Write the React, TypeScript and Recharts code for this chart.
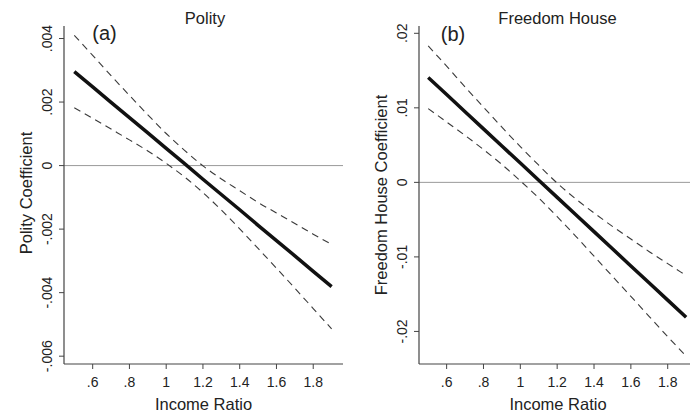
import React from 'react';
import { LineChart, Line, XAxis, YAxis, ReferenceLine } from 'recharts';

const FONT = '"Liberation Sans", Arial, sans-serif';
const TEXT = '#222';
const AXIS = '#444';

// income ratio grid shared by both panels
const incomeRatio = [0.5, 0.6, 0.7, 0.8, 0.9, 1.0, 1.1, 1.2, 1.3, 1.4, 1.5, 1.6, 1.7, 1.8, 1.9];

// panel (a): Polity
const polityCoef = [0.00296, 0.00248, 0.00199, 0.00151, 0.00103, 0.00054, 0.00006, -0.00043, -0.00091, -0.00139, -0.00188, -0.00236, -0.00284, -0.00333, -0.00381];
const polityUpper = [0.0041, 0.00347, 0.00283, 0.00221, 0.0016, 0.00101, 0.00048, -0.00001, -0.00042, -0.00079, -0.00116, -0.00149, -0.00182, -0.00216, -0.00248];
const polityLower = [0.00182, 0.00149, 0.00115, 0.00081, 0.00046, 0.00007, -0.00036, -0.00085, -0.0014, -0.00199, -0.00261, -0.00323, -0.00386, -0.0045, -0.00514];

// panel (b): Freedom House
const fhCoef = [0.01408, 0.01178, 0.00948, 0.00718, 0.00488, 0.00259, 0.00029, -0.00201, -0.00431, -0.00661, -0.00891, -0.01121, -0.01351, -0.0158, -0.0181];
const fhUpper = [0.0183, 0.0156, 0.0128, 0.0101, 0.0074, 0.0048, 0.0023, -0.0001, -0.0022, -0.0041, -0.0059, -0.0076, -0.0093, -0.0109, -0.0125];
const fhLower = [0.0099, 0.0081, 0.0063, 0.0044, 0.0024, 0.0002, -0.0021, -0.0046, -0.0072, -0.0099, -0.0126, -0.0153, -0.018, -0.0207, -0.0233];

const xTicks = [0.6, 0.8, 1, 1.2, 1.4, 1.6, 1.8];
const polityTicks = [-0.006, -0.004, -0.002, 0, 0.002, 0.004];
const fhTicks = [-0.02, -0.01, 0, 0.01, 0.02];

const polityData = incomeRatio.map((x, i) => ({ x, coef: polityCoef[i], upper: polityUpper[i], lower: polityLower[i] }));
const fhData = incomeRatio.map((x, i) => ({ x, coef: fhCoef[i], upper: fhUpper[i], lower: fhLower[i] }));

// stata style: no leading zero
function stataNum(v: number, digits: number) {
  if (Math.abs(v) < 1e-12) return '0';
  return v.toFixed(digits).replace(/^(-?)0\./, '$1.');
}

function xFmt(v: number) {
  return String(Math.round(v * 10) / 10).replace(/^0\./, '.');
}

const makeYTick = (digits: number) => (props: any) => {
  const { x, y, payload } = props;
  return (
    <text
      x={x}
      y={y}
      transform={`rotate(-90 ${x} ${y})`}
      textAnchor="middle"
      dominantBaseline="central"
      fontSize={14}
      fontFamily={FONT}
      fill={TEXT}
    >
      {stataNum(payload.value, digits)}
    </text>
  );
};

interface PanelProps {
  left: number;
  data: any[];
  xDomain: [number, number];
  yDomain: [number, number];
  yTicks: number[];
  digits: number;
  yWidth: number;
  marginRight: number;
}

function Panel({ left, data, xDomain, yDomain, yTicks, digits, yWidth, marginRight }: PanelProps) {
  return (
    <div style={{ position: 'absolute', left, top: 0 }}>
      <LineChart width={345} height={416} data={data} margin={{ top: 26, right: marginRight, bottom: 0, left: 0 }}>
        <XAxis
          type="number"
          dataKey="x"
          domain={xDomain}
          allowDataOverflow
          ticks={xTicks}
          interval={0}
          tickFormatter={xFmt}
          height={52}
          tickSize={5}
          tickMargin={8}
          axisLine={{ stroke: AXIS, strokeWidth: 1.2 }}
          tickLine={{ stroke: AXIS }}
          tick={{ fontSize: 14, fill: TEXT, fontFamily: FONT }}
        />
        <YAxis
          type="number"
          domain={yDomain}
          allowDataOverflow
          ticks={yTicks}
          interval={0}
          width={yWidth}
          tickSize={5}
          tickMargin={12}
          axisLine={{ stroke: AXIS, strokeWidth: 1.2 }}
          tickLine={{ stroke: AXIS }}
          tick={makeYTick(digits)}
        />
        <ReferenceLine y={0} stroke="#999" strokeWidth={1} />
        <Line type="monotone" dataKey="upper" stroke="#3a3a3a" strokeWidth={1.1} strokeDasharray="7 5" dot={false} isAnimationActive={false} />
        <Line type="monotone" dataKey="lower" stroke="#3a3a3a" strokeWidth={1.1} strokeDasharray="7 5" dot={false} isAnimationActive={false} />
        <Line type="linear" dataKey="coef" stroke="#111" strokeWidth={3.5} dot={false} isAnimationActive={false} />
      </LineChart>
    </div>
  );
}

export default function App() {
  const t = { fontFamily: FONT, fill: TEXT };
  return (
    <div style={{ position: 'absolute', left: 0, top: 0, width: 690, height: 416, background: '#fff' }}>
      <Panel
        left={0}
        data={polityData}
        xDomain={[0.444, 1.962]}
        yDomain={[-0.006246, 0.004394]}
        yTicks={polityTicks}
        digits={3}
        yWidth={64}
        marginRight={2}
      />
      <Panel
        left={345}
        data={fhData}
        xDomain={[0.45, 1.921]}
        yDomain={[-0.02437, 0.02098]}
        yTicks={fhTicks}
        digits={2}
        yWidth={74}
        marginRight={0}
      />
      {/* titles and axis labels */}
      <svg width={690} height={416} style={{ position: 'absolute', left: 0, top: 0, pointerEvents: 'none' }}>
        <text x={205} y={24} textAnchor="middle" fontSize={16.5} {...t}>Polity</text>
        <text x={104.5} y={40} textAnchor="middle" fontSize={20} {...t}>(a)</text>
        <text x={26} y={193} transform="rotate(-90 26 193)" textAnchor="middle" dominantBaseline="central" fontSize={16.5} {...t}>
          Polity Coefficient
        </text>
        <text x={203.5} y={410} textAnchor="middle" fontSize={16.5} {...t}>Income Ratio</text>

        <text x={557.5} y={24} textAnchor="middle" fontSize={16.5} {...t}>Freedom House</text>
        <text x={453} y={41} textAnchor="middle" fontSize={20} {...t}>(b)</text>
        <text x={380.5} y={195} transform="rotate(-90 380.5 195)" textAnchor="middle" dominantBaseline="central" fontSize={16.5} {...t}>
          Freedom House Coefficient
        </text>
        <text x={558} y={410} textAnchor="middle" fontSize={16.5} {...t}>Income Ratio</text>
      </svg>
    </div>
  );
}
